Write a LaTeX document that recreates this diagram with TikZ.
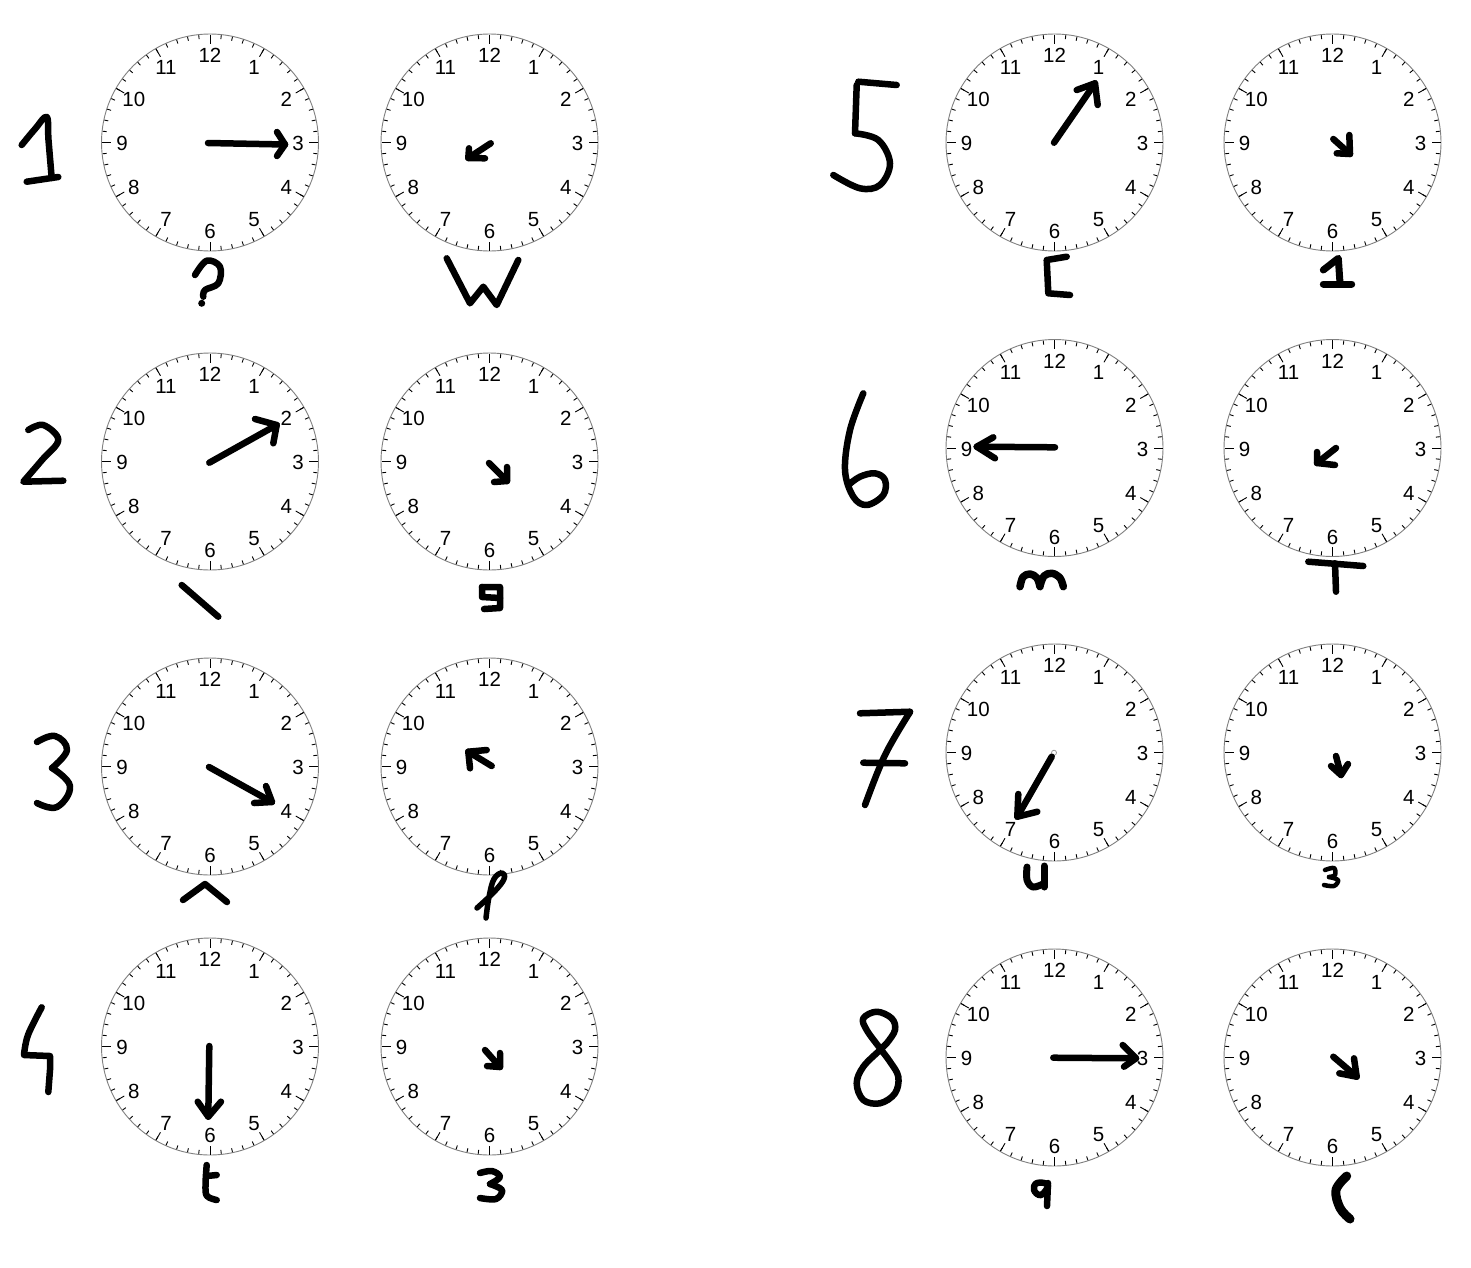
\documentclass[tikz,border=0pt]{standalone}
\usepackage{fontspec}
\newfontfamily\arialf{Liberation Sans}
\tikzset{
  face/.style={circle, draw=black!50, line width=0.9pt, fill=white, minimum size=217pt, inner sep=0pt},
  tk/.style={line width=0.9pt, black},
  num/.style={font=\arialf\fontsize{20.5}{21}\selectfont, inner sep=0pt},
  hand/.style={line width=6.5pt, line cap=round, line join=round},
  ink/.style={line width=6.5pt, line cap=round, line join=round},
}
\newcommand\clockat[3]{%
  \node[face] (#1) at (#2,#3) {};
  \begin{scope}[shift={(#2,#3)}]
    \foreach \i in {0,...,59}{\draw[tk] (\i*6:108) -- (\i*6:104);}
    \foreach \i in {0,5,...,55}{\draw[tk] (\i*6:108) -- (\i*6:99);}
    \foreach \h in {1,...,12}{\node[num, yshift=-1pt] at ({\h*30-90}:88) {\h};}
  \end{scope}}
% hand arrow: start, tip, arm1, arm2
\newcommand\handarrow[8]{%
  \draw[hand] (#1,#2) -- (#3,#4);
  \draw[hand] (#5,#6) -- (#3,#4) -- (#7,#8);}
\begin{document}
\begin{tikzpicture}[x=1pt,y=-1pt]
\useasboundingbox (0,0) rectangle (1471,1267);
\fill[white] (0,0) rectangle (1471,1267);
% clocks
\clockat{c1a}{210}{142.5}
\clockat{c1b}{489.5}{142.5}
\clockat{c2a}{210}{461.5}
\clockat{c2b}{489.5}{461.5}
\clockat{c3a}{210}{766.5}
\clockat{c3b}{489.5}{766.5}
\clockat{c4a}{210}{1046.5}
\clockat{c4b}{489.5}{1046.5}
\clockat{c5a}{1054.5}{142.5}
\clockat{c5b}{1332.5}{142.5}
\clockat{c6a}{1054.5}{448}
\clockat{c6b}{1332.5}{448}
\clockat{c7a}{1054.5}{752.5}
\clockat{c7b}{1332.5}{752.5}
\clockat{c8a}{1054.5}{1057.5}
\clockat{c8b}{1332.5}{1057.5}
% hands
\handarrow{208}{143}{285}{144.5}{277}{132}{277}{156}
\handarrow{490.7}{143.3}{468.3}{158}{469}{148.3}{485}{158.3}
\handarrow{209.3}{462.7}{276.7}{425}{255}{419}{273.3}{443.3}
\handarrow{489}{463}{507}{481}{507}{467}{494}{482}
\handarrow{209}{767}{272}{802}{254}{803}{266}{786}
\handarrow{491.7}{766}{468.3}{751.7}{470}{768.3}{486.7}{750}
\handarrow{209.3}{1046}{208.3}{1116.7}{197.7}{1101.7}{221}{1101.7}
\handarrow{485}{1050}{500}{1067}{500}{1053}{487}{1066}
\handarrow{1054}{142.7}{1095}{83.3}{1076.7}{90}{1097.7}{105}
\handarrow{1333.3}{139}{1350}{154}{1349.3}{135}{1336.7}{153.3}
\handarrow{1055}{447.3}{976.7}{446.7}{993.3}{437.3}{995}{458.3}
\handarrow{1336}{448}{1317}{463}{1317}{452}{1335}{465}
\draw[black!40, line width=0.8pt] (1054,752.7) circle[radius=2.5];
\handarrow{1051.7}{756.7}{1017.3}{816.7}{1018.3}{794}{1037.3}{811.7}
\handarrow{1336}{756}{1341}{775}{1331}{766}{1348}{764}
\handarrow{1053.3}{1057.7}{1136}{1058.3}{1122.7}{1045}{1124}{1066.7}
\handarrow{1333.3}{1056.7}{1356.7}{1076.7}{1354}{1058.3}{1339.3}{1073.3}
% handwritten numbers
\draw[ink] plot[smooth, tension=0.6] coordinates {(21.7,145) (35,129) (46.7,117) (48.5,140) (51.7,178)};
\draw[ink] (26.7,181.7) -- (58.3,177);
\draw[ink] plot[smooth, tension=0.6] coordinates {(28.3,430) (43.3,425) (58.3,440) (42,460) (23.3,481.7)} -- (63.3,480.7);
\draw[ink] plot[smooth, tension=0.7] coordinates {(37,742) (55,736) (67,750) (52,768)};
\draw[ink] plot[smooth, tension=0.7] coordinates {(52,768) (70,786) (57,807) (37,803)};
\draw[ink] plot[smooth, tension=0.6] coordinates {(41.7,1007.3) (28,1035) (24,1055)} -- (50,1056) -- (50,1070) -- (48.3,1092);
\draw[ink] (858.3,81.7) -- (896.7,85);
\draw[ink] (856.7,85) -- (855,133.3);
\draw[ink] plot[smooth, tension=0.6] coordinates {(855,133.3) (878.3,140) (890,163.3) (880,185) (860,188.3) (833.3,175)};
\draw[ink] plot[smooth, tension=0.6] coordinates {(863.3,393.3) (850,430) (845,470) (853.3,496.7) (866.7,505) (883.3,495) (885,480) (875,473.3) (860,476.7) (848.3,485)};
\draw[ink] (860,713.3) -- (910,711.7);
\draw[ink] plot[smooth, tension=0.6] coordinates {(910,712) (885,755) (865,805)};
\draw[ink] (863.3,762.7) -- (905,763.3);
\draw[ink] plot[smooth cycle, tension=0.6] coordinates {(880,1048.3) (866.7,1030) (863.3,1018.3) (876.7,1011.7) (891.7,1018.3) (895,1030) (886.7,1043.3) (880,1050) (863.3,1066.7) (856.7,1083.3) (863.3,1100) (880,1103.3) (895,1093.3) (898.3,1076.7) (890,1061.7)};
% labels
\draw[ink] plot[smooth, tension=0.6] coordinates {(195,275) (206.7,260.7) (220,266.7) (218.3,283.3) (205,290) (203.3,296.7)};
\fill (201.7,303.3) circle[radius=3.5];
\draw[ink] (446.7,258.3) -- (470,303.3) -- (483.3,286.7) -- (496.7,305) -- (518.3,260);
\draw[ink] (1066.7,256.7) -- (1046.7,260) -- (1048.3,293.3) -- (1070,295);
\draw[ink, line width=7pt] (1323.3,270) -- (1338.3,258.3) -- (1340,283.3);
\draw[ink, line width=7pt] (1323.3,284) -- (1351.7,284);
\draw[ink] (181.7,585) -- (218.3,616.7);
\draw[ink] (482,587) -- (500,587) -- (500,608) -- (484,609);
\draw[ink] (482,587) -- (482,597) -- (500,598);
\draw[ink] (183,900) -- (205,884) -- (227,902);
\draw[ink, line width=5.5pt] plot[smooth, tension=0.7] coordinates {(477,908) (494,892) (504,879) (502,873) (494,879) (489,897) (486,918)};
\draw[ink] plot[smooth, tension=0.6] coordinates {(206.7,1165) (205.5,1185) (207,1196) (216.7,1200)};
\draw[ink] (206.7,1176) -- (216.7,1175);
\draw[ink] plot[smooth, tension=0.6] coordinates {(480,1173) (492,1171) (500,1177) (490,1184)};
\draw[ink] plot[smooth, tension=0.6] coordinates {(490,1184) (502,1190) (496,1199) (480,1198)};
\draw[ink, line width=7.5pt] plot[smooth, tension=0.6] coordinates {(1020,586.7) (1023,577) (1030,574) (1037,578) (1040,586.7)};
\draw[ink, line width=7.5pt] plot[smooth, tension=0.6] coordinates {(1040,586) (1044,576) (1052,573.3) (1060,578) (1063.3,586.7)};
\draw[ink] (1308.3,561.7) -- (1363.3,566);
\draw[ink] (1335,563.3) -- (1336,591.7);
\draw[ink, line width=7pt] plot[smooth, tension=0.6] coordinates {(1027,867) (1027,880) (1033,887) (1043,884)};
\draw[ink, line width=7pt] (1044,866) -- (1044,887);
\draw[ink, line width=4.5pt] plot[smooth, tension=0.6] coordinates {(1325,870) (1334,868) (1335,875) (1329,877)};
\draw[ink, line width=4.5pt] plot[smooth, tension=0.6] coordinates {(1329,877) (1338,880) (1334,886) (1324,885)};
\draw[ink] plot[smooth cycle, tension=0.7] coordinates {(1048,1185) (1037,1183) (1034,1190) (1041,1195)};
\draw[ink] (1048,1183) -- (1047,1206);
\draw[ink, line width=9pt] plot[smooth, tension=0.6] coordinates {(1346.7,1176) (1336,1190) (1340,1208) (1350,1219)};
\end{tikzpicture}
\end{document}
